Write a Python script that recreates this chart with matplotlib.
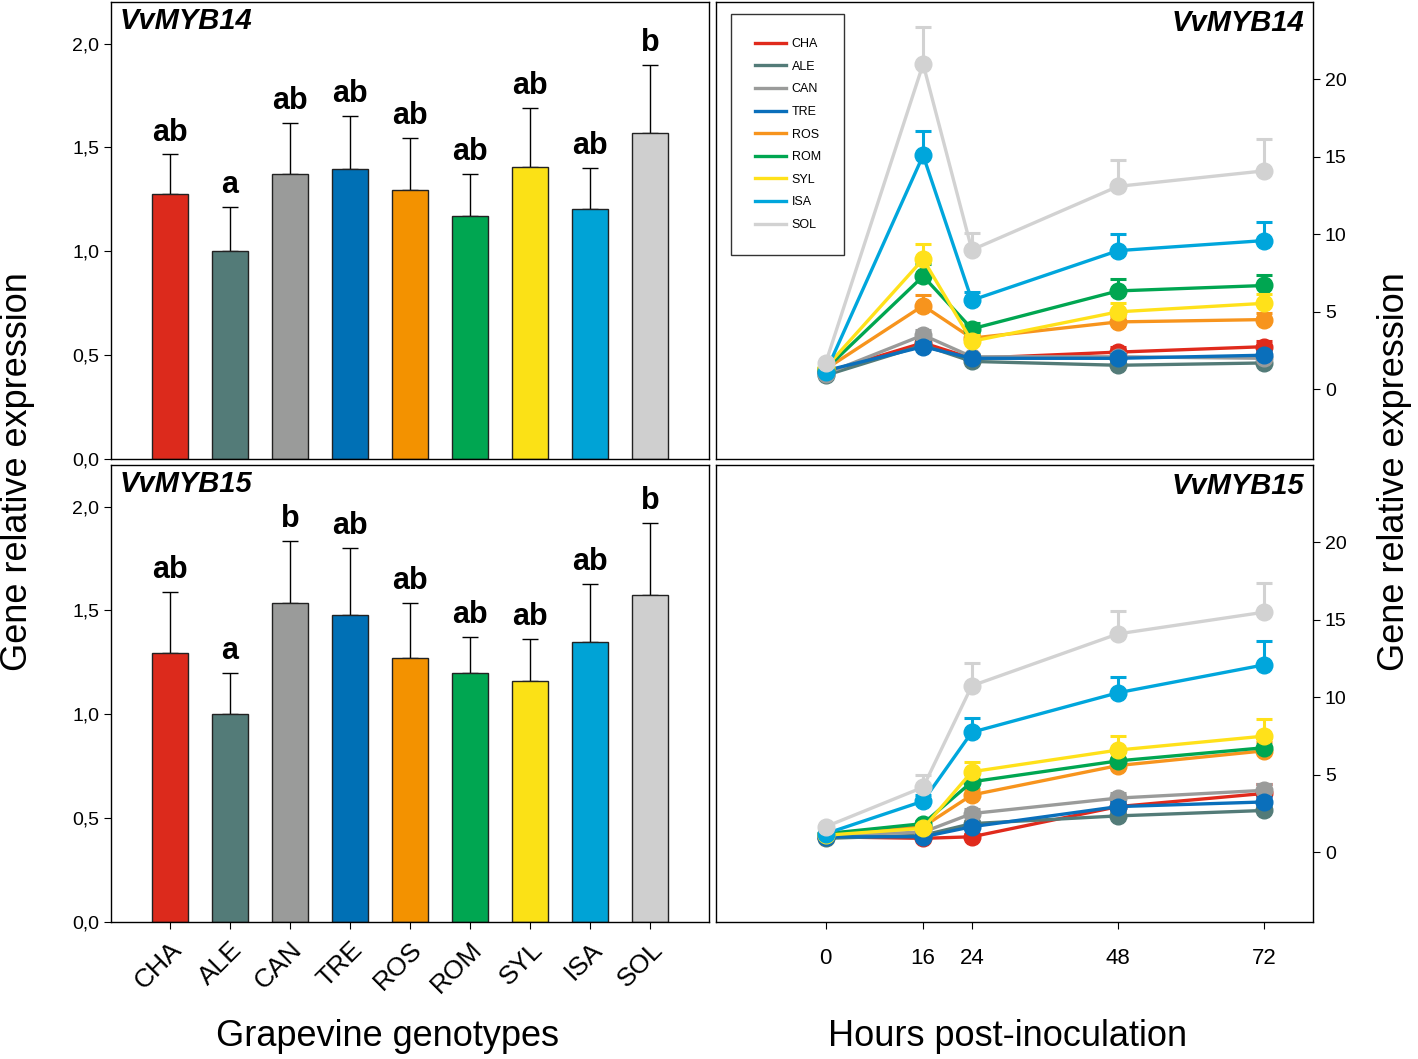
import numpy as np
import matplotlib
matplotlib.use("Agg")
import matplotlib.pyplot as plt

plt.rcParams['font.family'] = ['Liberation Sans', 'DejaVu Sans']

genotypes = ["CHA", "ALE", "CAN", "TRE", "ROS", "ROM", "SYL", "ISA", "SOL"]
colors = ["#dc2a1c", "#537b78", "#9a9b9a", "#0070b5", "#f39200",
          "#00a651", "#fbe116", "#00a3d6", "#cfcfcf"]
line_colors = ["#e02a1c", "#537b78", "#9a9b9a", "#0a6fbb", "#f7941d",
               "#00a651", "#ffe11a", "#00a6dc", "#d2d2d2"]

# bar panels (mean, upper error end)
myb14_mean = [1.277, 1.0, 1.373, 1.394, 1.294, 1.17, 1.406, 1.203, 1.57]
myb14_top = [1.466, 1.211, 1.618, 1.65, 1.547, 1.373, 1.691, 1.40, 1.899]
myb14_letters = ["ab", "a", "ab", "ab", "ab", "ab", "ab", "ab", "b"]

myb15_mean = [1.295, 1.0, 1.534, 1.476, 1.271, 1.197, 1.162, 1.348, 1.572]
myb15_top = [1.587, 1.199, 1.832, 1.80, 1.535, 1.37, 1.362, 1.628, 1.923]
myb15_letters = ["ab", "a", "b", "ab", "ab", "ab", "ab", "ab", "b"]

# time course panels
hours = [0, 16, 24, 48, 72]
tc14 = {
    "CHA": [1.1, 3.0, 2.0, 2.4, 2.75],
    "ALE": [0.9, 2.85, 1.8, 1.55, 1.7],
    "CAN": [1.0, 3.5, 2.1, 2.1, 2.0],
    "TRE": [1.2, 2.75, 2.0, 2.0, 2.2],
    "ROS": [1.3, 5.4, 3.3, 4.35, 4.5],
    "ROM": [1.3, 7.3, 3.9, 6.35, 6.7],
    "SYL": [1.4, 8.4, 3.1, 5.0, 5.55],
    "ISA": [1.1, 15.1, 5.75, 8.95, 9.6],
    "SOL": [1.7, 21.0, 9.0, 13.1, 14.1],
}
tc14_err = {
    "CHA": [0.1, 0.3, 0.2, 0.3, 0.35],
    "ALE": [0.1, 0.3, 0.2, 0.2, 0.2],
    "CAN": [0.1, 0.35, 0.2, 0.25, 0.25],
    "TRE": [0.1, 0.3, 0.2, 0.25, 0.3],
    "ROS": [0.1, 0.7, 0.3, 0.4, 0.4],
    "ROM": [0.1, 0.8, 0.35, 0.8, 0.7],
    "SYL": [0.1, 1.0, 0.4, 0.6, 0.6],
    "ISA": [0.1, 1.6, 0.55, 1.05, 1.2],
    "SOL": [0.1, 2.4, 1.1, 1.7, 2.05],
}
tc15 = {
    "CHA": [1.0, 0.9, 1.0, 2.95, 3.8],
    "ALE": [0.9, 1.1, 1.85, 2.35, 2.7],
    "CAN": [1.1, 1.3, 2.5, 3.5, 4.0],
    "TRE": [1.0, 1.0, 1.65, 2.95, 3.25],
    "ROS": [1.2, 1.65, 3.7, 5.6, 6.55],
    "ROM": [1.2, 1.85, 4.55, 5.9, 6.75],
    "SYL": [1.1, 1.55, 5.2, 6.6, 7.5],
    "ISA": [1.2, 3.3, 7.75, 10.3, 12.1],
    "SOL": [1.65, 4.2, 10.75, 14.1, 15.5],
}
tc15_err = {
    "CHA": [0.1, 0.15, 0.2, 0.3, 0.6],
    "ALE": [0.1, 0.1, 0.2, 0.3, 0.3],
    "CAN": [0.1, 0.15, 0.3, 0.35, 0.4],
    "TRE": [0.1, 0.1, 0.2, 0.3, 0.35],
    "ROS": [0.1, 0.2, 0.4, 0.5, 0.6],
    "ROM": [0.1, 0.2, 0.5, 0.6, 0.6],
    "SYL": [0.1, 0.2, 0.6, 0.9, 1.1],
    "ISA": [0.1, 0.4, 0.95, 1.0, 1.55],
    "SOL": [0.1, 0.8, 1.5, 1.5, 1.9],
}

fig = plt.figure(figsize=(14.18, 10.59), dpi=100)
W, H = 1418, 1059


def box(l, t, r, b):
    return [l / W, (H - b) / H, (r - l) / W, (b - t) / H]


ax_tl = fig.add_axes(box(111, 2, 709, 459))
ax_bl = fig.add_axes(box(111, 465, 709, 922))
ax_tr = fig.add_axes(box(716, 2, 1313, 459))
ax_br = fig.add_axes(box(716, 465, 1313, 922))

x = np.arange(len(genotypes))


def bar_panel(ax, mean, top, letters, title, show_x):
    mean = np.array(mean)
    err = np.array(top) - mean
    ax.bar(x, mean, width=0.6, color=colors, edgecolor="#222222", linewidth=1.0, zorder=2)
    ax.errorbar(x, mean, yerr=[np.zeros_like(err), err], fmt="none", ecolor="black",
                elinewidth=1.0, capsize=5.5, capthick=1.0, zorder=1)
    for xi, t, lab in zip(x, top, letters):
        ax.annotate(lab, (xi, t), xytext=(0, 5), textcoords="offset points",
                    ha="center", va="bottom", fontsize=22, fontweight="bold")
    ax.set_xlim(-0.98, 8.98)
    ax.set_ylim(0, 2.2)
    ax.set_yticks([0, 0.5, 1.0, 1.5, 2.0])
    ax.set_yticklabels(["0,0", "0,5", "1,0", "1,5", "2,0"])
    ax.tick_params(axis="y", direction="out", length=5, labelsize=14)
    ax.set_xticks(x)
    if show_x:
        ax.set_xticklabels(genotypes, rotation=45, ha="right", rotation_mode="anchor",
                           fontsize=19)
        ax.tick_params(axis="x", direction="out", length=5, pad=6)
    else:
        ax.set_xticklabels([])
        ax.tick_params(axis="x", length=0)
    ax.text(0.015, 0.988, title, transform=ax.transAxes, ha="left", va="top",
            fontsize=21, fontweight="bold", fontstyle="italic")


bar_panel(ax_tl, myb14_mean, myb14_top, myb14_letters, "VvMYB14", False)
bar_panel(ax_bl, myb15_mean, myb15_top, myb15_letters, "VvMYB15", True)


def line_panel(ax, data, errs, title, show_x, legend):
    for i, g in enumerate(genotypes):
        y = np.array(data[g])
        e = np.array(errs[g])
        ax.errorbar(hours, y, yerr=[np.zeros_like(e), e], color=line_colors[i],
                    marker="o", markersize=12, linewidth=2.4, elinewidth=2.2,
                    capsize=6, capthick=2.2, label=g, zorder=3 + i)
    ax.set_xlim(-18, 80)
    ax.set_ylim(-4.5, 25)
    ax.yaxis.tick_right()
    ax.set_yticks([0, 5, 10, 15, 20])
    ax.tick_params(axis="y", direction="out", length=5, labelsize=14)
    ax.set_xticks(hours)
    if show_x:
        ax.tick_params(axis="x", direction="out", length=5, labelsize=16, pad=14)
    else:
        ax.set_xticklabels([])
        ax.tick_params(axis="x", length=0)
    ax.text(0.985, 0.985, title, transform=ax.transAxes, ha="right", va="top",
            fontsize=21, fontweight="bold", fontstyle="italic")
    if legend:
        handles = [plt.Line2D([], [], color=c, linewidth=2.4) for c in line_colors]
        leg = ax.legend(handles, genotypes, loc="upper left", bbox_to_anchor=(0.025, 0.973),
                        fontsize=9, frameon=True, fancybox=False, handlelength=2.5,
                        labelspacing=0.85, borderpad=1.9, borderaxespad=0,
                        handletextpad=0.45)
        leg.get_frame().set_edgecolor("black")
        leg.get_frame().set_linewidth(1.0)


line_panel(ax_tr, tc14, tc14_err, "VvMYB14", False, True)
line_panel(ax_br, tc15, tc15_err, "VvMYB15", True, False)

for ax in [ax_tl, ax_bl, ax_tr, ax_br]:
    for s in ax.spines.values():
        s.set_linewidth(1.0)

fig.text(18 / W, 1 - 472 / H, "Gene relative expression", rotation=90,
         ha="center", va="center", fontsize=26)
fig.text(1395 / W, 1 - 472 / H, "Gene relative expression", rotation=90,
         ha="center", va="center", fontsize=26)
fig.text(388 / W, 1 - 1037 / H, "Grapevine genotypes", ha="center", va="center", fontsize=26)
fig.text(1008 / W, 1 - 1037 / H, "Hours post-inoculation", ha="center", va="center", fontsize=26)

fig.savefig("out.png", dpi=100)
